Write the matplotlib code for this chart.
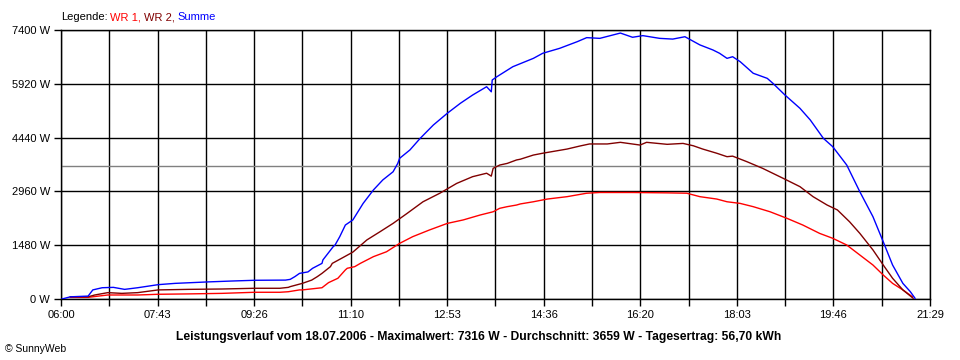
#!/usr/bin/env python3
import matplotlib

matplotlib.use("Agg")
import matplotlib.pyplot as plt
from matplotlib.offsetbox import AnchoredOffsetbox, HPacker, TextArea

plt.rcParams["font.family"] = ["Liberation Sans", "DejaVu Sans"]

# time of day (HH:MM) and power in W
wr1_time = ["06:10", "06:29", "06:40", "06:50", "07:22", "07:44", "08:16", "08:52", "09:27",
            "09:54", "10:03", "10:15", "10:18", "10:39", "10:46", "10:56", "11:04", "11:06",
            "11:14", "11:20", "11:34", "11:48", "12:02", "12:16", "12:34", "12:53", "13:10",
            "13:28", "13:42", "13:49", "13:57", "14:07", "14:11", "14:25", "14:40", "15:01",
            "15:22", "15:36", "16:11", "16:48", "17:09", "17:23", "17:41", "17:52", "18:06",
            "18:20", "18:38", "18:56", "19:13", "19:31", "19:45", "20:00", "20:14", "20:28",
            "20:39", "20:49", "21:00", "21:10"]
wr1_power = [45, 45, 80, 110, 110, 130, 140, 155, 185,
             185, 200, 250, 250, 310, 450, 570, 800, 845,
             890, 980, 1165, 1300, 1530, 1715, 1900, 2080, 2175,
             2310, 2400, 2495, 2540, 2585, 2615, 2675, 2750, 2815,
             2910, 2930, 2930, 2920, 2910, 2815, 2750, 2675, 2630,
             2540, 2400, 2220, 2035, 1805, 1670, 1485, 1210, 935,
             660, 430, 250, 65]

wr2_time = ["06:10", "06:29", "06:36", "06:50", "07:05", "07:22", "07:44", "08:16", "08:52",
            "09:27", "09:54", "10:03", "10:05", "10:18", "10:28", "10:34", "10:39", "10:48",
            "10:50", "11:00", "11:12", "11:27", "11:41", "11:55", "12:10", "12:27", "12:45",
            "13:03", "13:20", "13:35", "13:40", "13:42", "13:49", "13:57", "14:07", "14:11",
            "14:25", "14:35", "15:01", "15:15", "15:25", "15:44", "15:58", "16:19", "16:26",
            "16:48", "17:05", "17:16", "17:26", "17:41", "17:52", "17:58", "18:13", "18:30",
            "18:52", "19:10", "19:24", "19:39", "19:50", "20:03", "20:14", "20:28", "20:39",
            "20:49", "21:00", "21:11"]
wr2_power = [60, 60, 110, 175, 155, 175, 250, 265, 275,
             295, 295, 320, 340, 430, 520, 615, 705, 890,
             980, 1120, 1290, 1625, 1850, 2080, 2355, 2675, 2910,
             3180, 3365, 3460, 3380, 3595, 3685, 3730, 3825, 3845,
             3960, 4010, 4125, 4210, 4265, 4265, 4310, 4235, 4310,
             4255, 4280, 4215, 4125, 4010, 3915, 3930, 3780, 3595,
             3320, 3090, 2815, 2585, 2450, 2125, 1805, 1350, 935,
             570, 250, 20]

sum_time = ["06:01", "06:10", "06:29", "06:34", "06:44", "06:56", "07:08", "07:22", "07:44",
            "08:02", "08:37", "09:03", "09:27", "10:00", "10:05", "10:10", "10:15", "10:24",
            "10:29", "10:39", "10:40", "10:51", "10:53", "10:58", "11:04", "11:12", "11:23",
            "11:34", "11:44", "11:55", "12:00", "12:02", "12:13", "12:24", "12:38", "12:53",
            "13:07", "13:20", "13:35", "13:40", "13:41", "13:46", "14:03", "14:25", "14:35",
            "14:53", "15:12", "15:22", "15:36", "15:58", "16:11", "16:22", "16:40", "16:54",
            "17:07", "17:23", "17:37", "17:44", "17:52", "17:58", "18:06", "18:20", "18:35",
            "18:41", "18:54", "19:10", "19:21", "19:35", "19:45", "20:00", "20:14", "20:28",
            "20:39", "20:49", "21:00", "21:08", "21:13"]
sum_power = [0, 60, 80, 250, 310, 320, 265, 310, 395,
             430, 470, 495, 515, 520, 540, 615, 705, 745,
             845, 980, 1075, 1440, 1485, 1715, 2035, 2175, 2630,
             3000, 3275, 3500, 3730, 3870, 4100, 4420, 4785, 5110,
             5385, 5610, 5840, 5700, 6025, 6115, 6390, 6620, 6760,
             6895, 7080, 7190, 7170, 7316, 7200, 7245, 7170, 7150,
             7215, 6990, 6850, 6760, 6620, 6665, 6530, 6210, 6070,
             5935, 5610, 5245, 4925, 4420, 4190, 3685, 2950, 2265,
             1575, 935, 430, 200, 20]

average_power = 3659
y_ticks = [0, 1480, 2960, 4440, 5920, 7400]
x_labels = ["06:00", "07:43", "09:26", "11:10", "12:53", "14:36", "16:20", "18:03", "19:46", "21:29"]
t_start, t_end = "06:00", "21:29"
footer = ("Leistungsverlauf vom 18.07.2006 - Maximalwert: 7316 W - "
          "Durchschnitt: 3659 W - Tagesertrag: 56,70 kWh")


def minutes(hhmm):
    h, m = hhmm.split(":")
    return int(h) * 60 + int(m)


fig = plt.figure(figsize=(9.6, 3.6), dpi=100)
ax = fig.add_axes([61 / 960, 1 - 299 / 360, 869 / 960, 269 / 360])

x0, x1 = minutes(t_start), minutes(t_end)
n_grid = 2 * (len(x_labels) - 1)
grid_x = [x0 + (x1 - x0) * k / n_grid for k in range(n_grid + 1)]
ax.set_xlim(x0, x1)
ax.set_ylim(y_ticks[0], y_ticks[-1])
ax.set_xticks(grid_x)
ax.set_xticklabels([x_labels[k // 2] if k % 2 == 0 else "" for k in range(n_grid + 1)])
ax.set_yticks(y_ticks)
ax.set_yticklabels([f"{v} W" for v in y_ticks])
ax.grid(True, color="black", linewidth=1)
ax.axhline(average_power, color="#808080", linewidth=1, zorder=2)
ax.tick_params(direction="out", length=5, width=1, color="black", labelsize=8, pad=3)
for spine in ax.spines.values():
    spine.set_linewidth(1)

ax.plot([minutes(t) for t in wr1_time], wr1_power, color="#ff0000", linewidth=1, zorder=3)
ax.plot([minutes(t) for t in wr2_time], wr2_power, color="#800000", linewidth=1, zorder=3)
ax.plot([minutes(t) for t in sum_time], sum_power, color="#0000ff", linewidth=1, zorder=3)

parts = [("Legende:", "black"), ("WR 1,", "#ff0000"), ("WR 2,", "#800000"), ("Summe", "#0000ff")]
pack = HPacker(children=[TextArea(s, textprops=dict(color=c, fontsize=8)) for s, c in parts],
               sep=2, pad=0, align="baseline")
legend = AnchoredOffsetbox(loc="lower left", child=pack, pad=0, borderpad=0, frameon=False,
                           bbox_to_anchor=(61 / 960, 1 - 22 / 360), bbox_transform=fig.transFigure)
fig.add_artist(legend)

fig.text(479 / 960, 1 - 337 / 360, footer, ha="center", va="center", fontsize=8.7, fontweight="bold")
fig.text(5 / 960, 1 - 349 / 360, "© SunnyWeb", ha="left", va="center", fontsize=7.5)

fig.savefig("out.png", dpi=100)
